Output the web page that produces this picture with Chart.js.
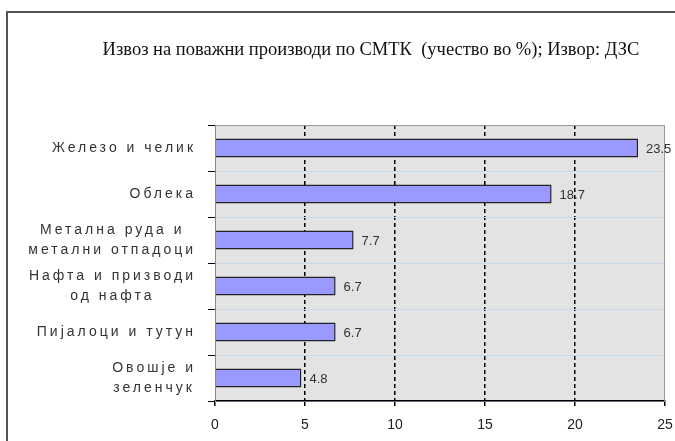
<!DOCTYPE html>
<html>
<head>
<meta charset="utf-8">
<script src="https://cdn.jsdelivr.net/npm/chart.js@4/dist/chart.umd.min.js"></script>
<style>
  html, body { margin: 0; padding: 0; background: #fff; }
  #wrap { width: 675px; height: 441px; position: relative; }
</style>
</head>
<body>
<div id="wrap"><canvas id="exportChart" width="675" height="441"></canvas></div>
<script>
// categories (each entry = lines of the label)
const categories = [
  ['Железо и челик'],
  ['Облека'],
  ['Метална руда и', 'метални отпадоци'],
  ['Нафта и призводи', 'од нафта'],
  ['Пијалоци и тутун'],
  ['Овошје и', 'зеленчук'],
];
const shares = [23.5, 18.7, 7.7, 6.7, 6.7, 4.8];
const xTicks = [0, 5, 10, 15, 20, 25];
const chartTitle = 'Извоз на поважни производи по СМТК  (учество во %); Извор: ДЗС';

const frameAndLabels = {
  id: 'frameAndLabels',
  beforeDraw(chart) {
    const { ctx, chartArea: a } = chart;
    ctx.save();
    ctx.fillStyle = '#e3e3e3';
    ctx.fillRect(a.left, a.top, a.right - a.left, a.bottom - a.top);
    // outer frame
    ctx.strokeStyle = '#555';
    ctx.lineWidth = 2;
    ctx.beginPath();
    ctx.moveTo(7, 441);
    ctx.lineTo(7, 12);
    ctx.lineTo(675, 12);
    ctx.stroke();
    // title (sits right of centre in the original)
    ctx.fillStyle = '#111';
    ctx.font = '18.5px "Liberation Serif", "Times New Roman", serif';
    ctx.textAlign = 'center';
    ctx.textBaseline = 'middle';
    ctx.fillText(chartTitle, 371, 50);
    ctx.restore();
  },
  beforeDatasetsDraw(chart) {
    const { ctx, chartArea: a } = chart;
    ctx.save();
    ctx.strokeStyle = '#999';
    ctx.lineWidth = 1;
    ctx.beginPath();
    ctx.moveTo(a.left, a.top + 0.5);
    ctx.lineTo(a.right - 0.5, a.top + 0.5);
    ctx.lineTo(a.right - 0.5, a.bottom);
    ctx.stroke();
    ctx.restore();
  },
  afterDraw(chart) {
    const { ctx } = chart;
    const yScale = chart.scales.y;
    ctx.save();
    // category labels, spaced out like the original
    ctx.font = '14px "Liberation Sans", Arial, sans-serif';
    ctx.fillStyle = '#333';
    ctx.letterSpacing = '3px';
    ctx.textBaseline = 'middle';
    ctx.textAlign = 'center';
    categories.forEach((lines, i) => {
      const yc = yScale.getPixelForValue(i);
      const widths = lines.map((l) => ctx.measureText(l).width);
      const blockW = Math.max(...widths);
      const cx = 196 - blockW / 2;
      const lh = 20;
      lines.forEach((l, j) => {
        const y = yc + (j - (lines.length - 1) / 2) * lh;
        ctx.fillText(l, cx, y);
      });
    });
    // value labels
    ctx.letterSpacing = '0px';
    ctx.textAlign = 'left';
    ctx.font = '13px "Liberation Sans", Arial, sans-serif';
    const meta = chart.getDatasetMeta(0);
    meta.data.forEach((bar, i) => {
      const txt = shares[i].toFixed(1);
      const w = ctx.measureText(txt).width;
      const x = Math.min(bar.x + 8, chart.width - w - 1);
      ctx.fillText(txt, x, bar.y + 1);
    });
    ctx.restore();
  },
};

new Chart(document.getElementById('exportChart').getContext('2d'), {
  type: 'bar',
  data: {
    labels: categories.map((c) => c.join(' ')),
    datasets: [
      {
        data: shares,
        backgroundColor: '#9999ff',
        borderColor: '#222',
        borderWidth: 1.5,
        borderSkipped: 'left',
        categoryPercentage: 1,
        barPercentage: 0.41,
      },
    ],
  },
  options: {
    indexAxis: 'y',
    responsive: false,
    animation: false,
    layout: { padding: { left: 0, right: 10, top: 125, bottom: 0 } },
    plugins: {
      legend: { display: false },
      tooltip: { enabled: false },
      title: { display: false },
    },
    scales: {
      x: {
        min: 0,
        max: 25,
        afterBuildTicks: (scale) => {
          scale.ticks = xTicks.map((v) => ({ value: v }));
        },
        afterFit: (scale) => {
          scale.height = 40;
          scale.paddingLeft = 0;
          scale.paddingRight = 0;
        },
        grid: {
          color: (c) => (c.tick && (c.tick.value === 0 || c.tick.value === 25) ? 'rgba(0,0,0,0)' : '#000'),
          lineWidth: 1.5,
          tickColor: '#000',
          tickLength: 5,
        },
        border: { color: '#000', width: 1.5, dash: [4, 3] },
        ticks: {
          color: '#222',
          padding: 11,
          font: { family: '"Liberation Sans", Arial, sans-serif', size: 14 },
        },
      },
      y: {
        afterFit: (scale) => {
          scale.width = 215;
          scale.paddingTop = 0;
          scale.paddingBottom = 0;
        },
        grid: {
          offset: true,
          color: '#c6d9f0',
          lineWidth: 1,
          tickColor: '#000',
          tickLength: 7,
        },
        border: { color: '#888', width: 1 },
        ticks: { display: false },
      },
    },
  },
  plugins: [frameAndLabels],
});
</script>
</body>
</html>
